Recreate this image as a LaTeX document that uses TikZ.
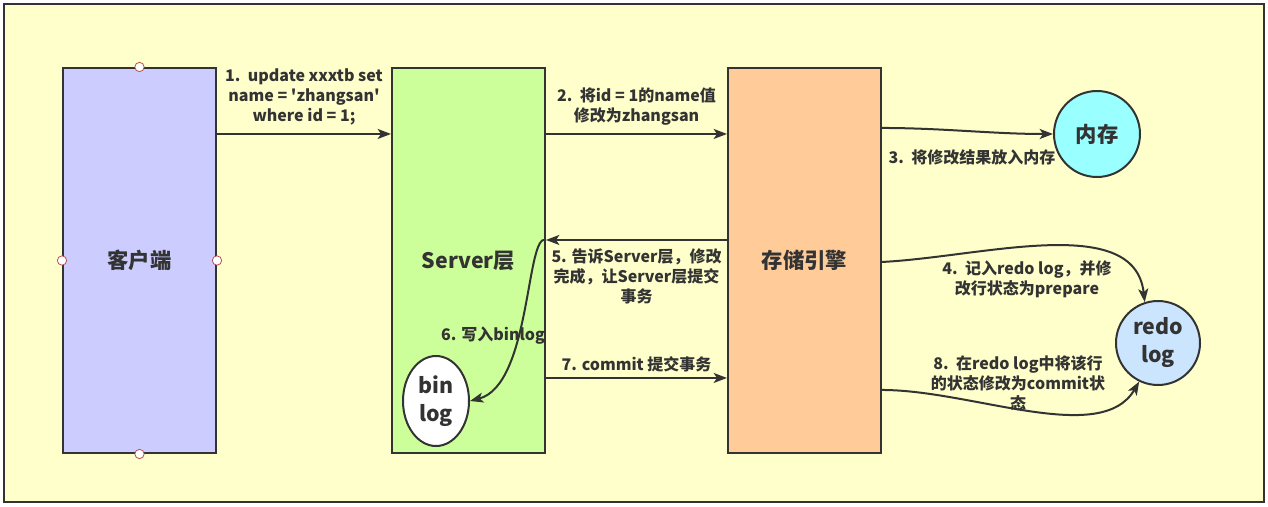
\documentclass[tikz,border=0pt]{standalone}
\usepackage{fontspec}
\setmainfont{Noto Sans CJK SC}
\usepackage{xcolor}
\definecolor{inkgray}{HTML}{333333}
\definecolor{framebg}{HTML}{FFFFCC}
\definecolor{clientblue}{HTML}{CCCCFF}
\definecolor{servergreen}{HTML}{CCFF99}
\definecolor{engineorange}{HTML}{FFCC99}
\definecolor{memcyan}{HTML}{99FFFF}
\definecolor{redoblue}{HTML}{CCE5FF}
\definecolor{handlered}{HTML}{B85450}
\usepackage{tikz}
\usetikzlibrary{arrows.meta, positioning, calc, shapes.geometric}

\begin{document}
\begin{tikzpicture}[
    x=0.75pt, y=-0.75pt,
    box/.style={draw=inkgray, line width=1.5pt, rectangle,
                minimum width=114.75pt, minimum height=288.75pt,
                font=\fontsize{16}{20}\selectfont\bfseries, text=inkgray},
    disk/.style={draw=inkgray, line width=1.5pt, circle, align=center,
                 inner sep=0pt, font=\fontsize{16}{21}\selectfont\bfseries, text=inkgray},
    arrow/.style={-{Stealth[length=10pt, width=7.5pt, inset=2.5pt]},
                  line width=1.5pt, draw=inkgray},
    lbl/.style={font=\fontsize{12}{15}\selectfont\bfseries, text=inkgray,
                align=center, inner sep=1pt},
    handle/.style={circle, draw=handlered, fill=white, line width=0.6pt,
                   minimum size=7pt, inner sep=0pt}
  ]
    \path[use as bounding box, fill=white] (0,0) rectangle (1268,507);
    \node[draw=inkgray, line width=1.5pt, fill=framebg,
          minimum width=945pt, minimum height=373.5pt] (frame) at (634,253) {};

    % the three layers
    \node[box, fill=clientblue] (client) at (139.5,260.5) {客户端};
    \node[box, fill=servergreen, right=130.5pt of client] (server) {Server层};
    \node[box, fill=engineorange, right=135.75pt of server] (engine) {存储引擎};

    % memory, redo log, binlog
    \node[disk, fill=memcyan, minimum size=64.5pt] (mem) at (1097,134) {内存};
    \node[disk, fill=redoblue, minimum size=63pt] (redo) at (1158,343) {redo\\log};
    \node[disk, ellipse, fill=white, minimum width=49.5pt, minimum height=67.5pt]
      (binlog) at (436,401) {bin\\log};

    % selection handles
    \foreach \side in {north, south, east, west}
      \node[handle] (hd\side) at (client.\side) {};

    \draw[arrow] ([yshift=94.9pt]client.east) -- node[lbl, above=5pt]
      {1.\ \ update xxxtb set\\name = \textquotesingle zhangsan\textquotesingle\\where id = 1;} ([yshift=94.9pt]server.west);
    \draw[arrow] ([yshift=94.9pt]server.east) -- node[lbl, above=5pt]
      {2.\ \ 将id = 1的name值\\修改为zhangsan} ([yshift=94.9pt]engine.west);
    \draw[arrow] ([yshift=99.4pt]engine.east) .. controls +(60,0) and +(-60,0) .. (mem.west);
    \node[lbl, anchor=west] (lblmem) at (887,157) {3.\ \ 将修改结果放入内存};

    \draw[arrow] ([yshift=-1.1pt]engine.east) .. controls +(100,-5) and +(-10,-90) .. (redo.108);
    \node[lbl] (lblprep) at (1027,279) {4.\ \ 记入redo log，并修\\改行状态为prepare};

    \draw[arrow] ([yshift=15.4pt]engine.west) -- node[lbl, below=5pt]
      {5. 告诉Server层，修改\\完成，让Server层提交\\事务} ([yshift=15.4pt]server.east);
    \draw[arrow] ([yshift=15.4pt]server.east) .. controls +(-20,-8) and +(61,-16) .. (binlog.east);
    \node[lbl] (lblbin) at (493,336) {6. 写入binlog};

    \draw[arrow] ([yshift=-88.1pt]server.east) -- node[lbl, above=3pt]
      {7. commit 提交事务} ([yshift=-88.1pt]engine.west);
    \draw[arrow] ([yshift=-97.1pt]engine.east) .. controls +(90,0) and +(-38,65) .. (redo.244);
    \node[lbl] (lblcommit) at (1018,383) {8.\ \ 在redo log中将该行\\的状态修改为commit状\\态};
  \end{tikzpicture}
\end{document}
